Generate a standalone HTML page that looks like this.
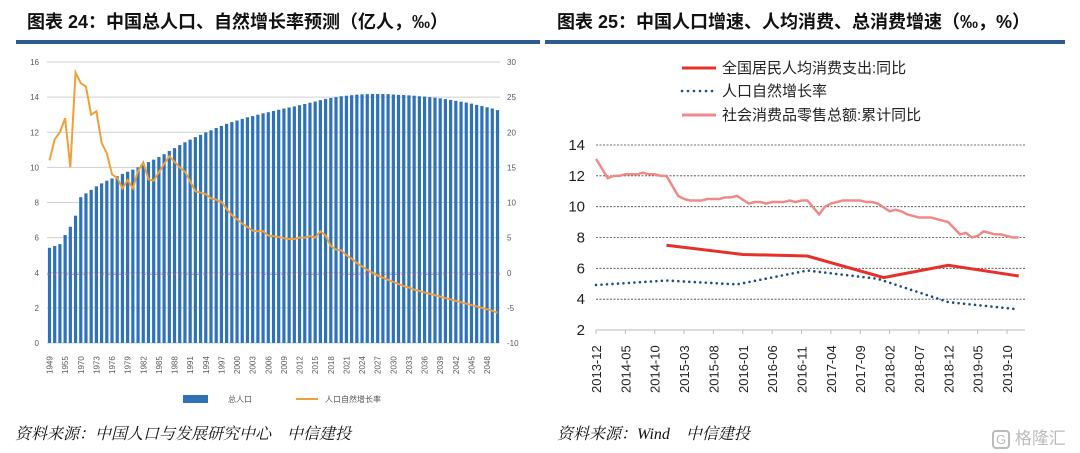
<!DOCTYPE html>
<html><head><meta charset="utf-8">
<style>
body{margin:0;background:#fff;width:1080px;height:453px;overflow:hidden;position:relative;font-family:"Liberation Sans","Noto Sans CJK SC",sans-serif}
.title{position:absolute;top:8px;font-family:"Liberation Sans","Noto Sans CJK SC",sans-serif;font-weight:bold;font-size:18px;color:#111;white-space:nowrap}
.src{position:absolute;top:421px;font-family:"Liberation Serif","Noto Serif CJK SC",serif;font-style:italic;font-size:16px;color:#111;white-space:nowrap}
.rule{position:absolute;top:40px;height:4px;background:#2b5b8f}
svg{position:absolute;left:0;top:0}
</style></head><body>
<div class="title" style="left:27px">图表 24：中国总人口、自然增长率预测（亿人，‰）</div>
<div class="title" style="left:557px">图表 25：中国人口增速、人均消费、总消费增速（‰，%）</div>
<div class="rule" style="left:16px;width:524px"></div>
<div class="rule" style="left:545px;width:520px"></div>
<div class="src" style="left:15px">资料来源：中国人口与发展研究中心　中信建投</div>
<div class="src" style="left:557px">资料来源：Wind　中信建投</div>
<div style="position:absolute;left:992px;top:424px;font-size:17px;color:#bbb;white-space:nowrap"><span style="border:2px solid #bbb;border-radius:4px;padding:0 2px;font-size:13px">G</span> 格隆汇</div>
<svg id="s" width="1080" height="453"></svg>
<script>
// Left chart data
const popYears=[1949,1950,1952,1955,1960,1965,1970,1971,1972,1973,1974,1975,1976,1977,1978,1979,1980,1981,1982,1983,1984,1985,1986,1987,1988,1989,1990,1991,1992,1993,1994,1995,1996,1997,1998,1999,2000,2001,2002,2003,2004,2005,2006,2007,2008,2009,2010,2011,2012,2013,2014,2015,2016,2017,2018,2019,2020,2021,2022,2023,2024,2025,2026,2027,2028,2029,2030,2031,2032,2033,2034,2035,2036,2037,2038,2039,2040,2041,2042,2043,2044,2045,2046,2047,2048,2049,2050];
const popValues=[5.42,5.52,5.63,6.15,6.62,7.25,8.3,8.52,8.72,8.92,9.09,9.24,9.37,9.5,9.63,9.75,9.87,10.0,10.17,10.3,10.44,10.59,10.75,10.93,11.1,11.27,11.43,11.58,11.72,11.85,11.99,12.11,12.24,12.36,12.48,12.58,12.67,12.76,12.85,12.92,13.0,13.08,13.14,13.21,13.28,13.35,13.41,13.47,13.54,13.61,13.68,13.75,13.83,13.9,13.95,14.0,14.05,14.08,14.11,14.14,14.16,14.17,14.18,14.18,14.18,14.17,14.15,14.13,14.12,14.1,14.08,14.05,14.03,14.0,13.97,13.93,13.89,13.84,13.79,13.74,13.69,13.63,13.56,13.49,13.42,13.35,13.26];
const growthValues=[16,19,20,22,15,28.5,27,26.5,22.5,23,18.5,17,14,13.5,12,13.2,12,14.5,15.7,13.3,13.1,14.3,15.5,16.6,15.8,15,14.4,13,11.6,11.4,11.2,10.6,10.4,10.1,9.1,8.2,7.6,7,6.5,6,5.9,5.9,5.3,5.2,5.1,4.9,4.8,4.8,5.0,5.0,5.2,5.0,5.9,5.3,3.8,3.3,3.2,2.5,2.0,1.4,0.9,0.4,0.0,-0.4,-0.7,-1.0,-1.3,-1.6,-1.9,-2.1,-2.4,-2.6,-2.8,-3.0,-3.2,-3.4,-3.6,-3.8,-4.0,-4.2,-4.4,-4.6,-4.8,-5.0,-5.2,-5.4,-5.7];
const leftTicks=[0,2,4,6,8,10,12,14,16];
const rightTicks=[-10,-5,0,5,10,15,20,25,30];
// Right chart data
const monthLabels=["2013-12","2014-05","2014-10","2015-03","2015-08","2016-01","2016-06","2016-11","2017-04","2017-09","2018-02","2018-07","2018-12","2019-05","2019-10"];
const retailMonths=[0,2,3,4,5,6,7,8,9,10,11,12,14,15,16,17,18,19,20,21,22,23,24,26,27,28,29,30,31,32,33,34,35,36,38,39,40,41,42,43,44,45,46,47,48,50,51,52,53,54,55,56,57,58,59,60,62,63,64,65,66,67,68,69,70,71,72];
const retailValues=[13.1,11.85,12.0,12.0,12.1,12.1,12.1,12.2,12.1,12.1,12.0,12.0,10.7,10.5,10.4,10.4,10.4,10.5,10.5,10.5,10.6,10.6,10.7,10.2,10.3,10.3,10.2,10.3,10.3,10.3,10.4,10.3,10.4,10.4,9.5,10.0,10.2,10.3,10.4,10.4,10.4,10.4,10.3,10.3,10.2,9.7,9.8,9.7,9.5,9.4,9.3,9.3,9.3,9.2,9.1,9.0,8.2,8.3,8.0,8.1,8.4,8.3,8.2,8.2,8.1,8.0,8.0];
const consMonths=[12,25,36,49,60,72];
const consValues=[7.5,6.9,6.8,5.4,6.2,5.5];
const birthMonths=[0,12,24,36,48,60,72];
const birthValues=[4.92,5.21,4.96,5.86,5.32,3.81,3.34];
const rightYTicks=[2,4,6,8,10,12,14];

const NS="http://www.w3.org/2000/svg",svg=document.getElementById('s');
function mk(t,a,p){const e=document.createElementNS(NS,t);for(const k in a)e.setAttribute(k,a[k]);(p||svg).appendChild(e);return e;}

// ---- Left chart
const L={x0:47,x1:500,y0:343,y1:62};
const yL=v=>L.y0-(v/16)*(L.y0-L.y1);
const yR=v=>L.y0-((v+10)/40)*(L.y0-L.y1);
const n=popYears.length, bx0=49.5, bx1=497.5;
const xB=i=>bx0+i*(bx1-bx0)/(n-1);
leftTicks.forEach(t=>{
  const g=mk('line',{x1:L.x0,x2:L.x1,y1:yL(t),y2:yL(t),stroke:'#d0d0d0','stroke-width':1});
  
  const tx=mk('text',{x:39,y:yL(t)+3,'text-anchor':'end','font-size':8,fill:'#595959'});tx.textContent=t;
  
});
rightTicks.forEach(t=>{
  const tx=mk('text',{x:507,y:yR(t)+3,'font-size':8,fill:'#595959'});tx.textContent=t;
  
});
popValues.forEach((v,i)=>{
  const r=mk('rect',{x:xB(i)-1.6,y:yL(v),width:3.2,height:L.y0-yL(v),fill:'#2e72b8'});
  
});
const zl=mk('line',{x1:L.x0,x2:L.x1,y1:yR(0)+1.5,y2:yR(0)+1.5,stroke:'#e05050','stroke-width':0.8,'stroke-dasharray':'3,3'});

const gl=mk('polyline',{points:growthValues.map((v,i)=>xB(i)+','+yR(v)).join(' '),fill:'none',stroke:'#f0a03a','stroke-width':2});

popYears.forEach((yr,i)=>{
  if(i%3)return;
  const tx=mk('text',{transform:`translate(${xB(i)+3},374) rotate(-90)`,'font-size':8,fill:'#595959'});tx.textContent=yr;
  
});
let lg=mk('rect',{x:183,y:395,width:25,height:8,fill:'#2e72b8'});
let lt=mk('text',{x:228,y:402,'font-size':8,fill:'#555'});lt.textContent='总人口';
lg=mk('line',{x1:296,x2:318,y1:399,y2:399,stroke:'#f0a03a','stroke-width':2});
lt=mk('text',{x:325,y:402,'font-size':8,fill:'#555'});lt.textContent='人口自然增长率';

// ---- Right chart
const R={x0:596,x1:1025,y0:330,y1:145};
const xM=m=>R.x0+m*(1007-596)/70;
const yV=v=>R.y0-(v-2)/12*(R.y0-R.y1);
rightYTicks.forEach(t=>{
  if(t>2){const g=mk('line',{x1:R.x0,x2:R.x1,y1:yV(t),y2:yV(t),stroke:'#444','stroke-width':0.8,'stroke-dasharray':'2,1.5'});
  }
  const tx=mk('text',{x:585,y:yV(t)+5,'text-anchor':'end','font-size':15,fill:'#222'});tx.textContent=t;
  
});
const ax=mk('line',{x1:R.x0,x2:R.x1,y1:R.y0,y2:R.y0,stroke:'#bbb','stroke-width':1});
monthLabels.forEach((lab,i)=>{
  const x=xM(i*5);
  const tk=mk('line',{x1:x,x2:x,y1:R.y0,y2:R.y0+4,stroke:'#bbb'});
  const tx=mk('text',{transform:`translate(${x+5},393) rotate(-90)`,'font-size':13,fill:'#222'});tx.textContent=lab;
  
});
let p=mk('polyline',{points:retailMonths.map((m,i)=>xM(m)+','+yV(retailValues[i])).join(' '),fill:'none',stroke:'#f08a8a','stroke-width':2.5});

p=mk('polyline',{points:birthMonths.map((m,i)=>xM(m)+','+yV(birthValues[i])).join(' '),fill:'none',stroke:'#1f4e79','stroke-width':2.6,'stroke-dasharray':'0,5.5','stroke-linecap':'round'});

p=mk('polyline',{points:consMonths.map((m,i)=>xM(m)+','+yV(consValues[i])).join(' '),fill:'none',stroke:'#e8302a','stroke-width':3});

const leg=[['#e8302a','全国居民人均消费支出:同比',68,''],['#1f4e79','人口自然增长率',91,'0,6'],['#f08a8a','社会消费品零售总额:累计同比',115,'']];
leg.forEach(([c,t,y,d])=>{
  const l=mk('line',{x1:682,x2:716,y1:y,y2:y,stroke:c,'stroke-width':d?2.6:3,'stroke-dasharray':d||'none','stroke-linecap':d?'round':'butt'});
  
  const tx=mk('text',{x:722,y:y+5,'font-size':15,fill:'#222'});tx.textContent=t;
  
});
</script>
</body></html>
